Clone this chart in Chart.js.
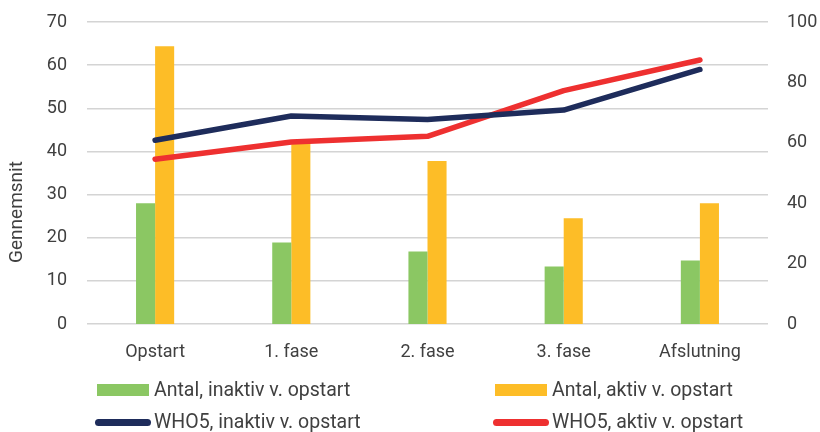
<!DOCTYPE html>
<html><head><meta charset="utf-8">
<script src="https://cdn.jsdelivr.net/npm/chart.js@4"></script>
<style>
html,body{margin:0;padding:0;background:#fff;}
#wrap{position:relative;width:820px;height:432px;}
#c{position:absolute;left:0;top:0;}
.lg{position:absolute;font-family:Roboto,sans-serif;font-size:19.5px;color:#404040;white-space:nowrap;line-height:24px;}
.sw{position:absolute;}
</style></head><body>
<div id="wrap"><canvas id="c" width="820" height="380"></canvas></div>
<script>
const categories = ["Opstart","1. fase","2. fase","3. fase","Afslutning"];
const seriesNames = ["Antal, inaktiv v. opstart","Antal, aktiv v. opstart","WHO5, inaktiv v. opstart","WHO5, aktiv v. opstart"];
const antalInaktiv = [40, 27, 24, 19, 21];
const antalAktiv = [92, 60, 54, 35, 40];
const who5Inaktiv = [42.6, 48.2, 47.4, 49.6, 59.0];
const who5Aktiv = [38.2, 42.2, 43.5, 54.1, 61.2];
const leftTicks = [0,10,20,30,40,50,60,70];
const rightTicks = [0,20,40,60,80,100];
const yTitle = "Gennemsnit";

const colors = ["#8BC763","#FDBD27","#1E2C5B","#EE3030"];
const FONT = "Roboto";
const txt = "#404040";

const titlePlugin = {
  id:'ytitle',
  afterDraw(chart){
    const c = chart.ctx;
    c.save();
    c.translate(17, 212);
    c.rotate(-Math.PI/2);
    c.fillStyle = txt;
    c.font = `19px ${FONT}`;
    c.textAlign = 'center';
    c.textBaseline = 'middle';
    c.fillText(yTitle, 0, 0);
    c.restore();
  }
};

const noPad = s => { s.paddingTop = 0; s.paddingBottom = 0; };

const ctx = document.getElementById('c');
const chart = new Chart(ctx, {
  data: {
    labels: categories,
    datasets: [
      {type:'line', label: seriesNames[2], data: who5Inaktiv, yAxisID:'y', borderColor: colors[2], backgroundColor: colors[2], borderWidth:5.5, pointRadius:0, borderCapStyle:'round', borderJoinStyle:'round', tension:0, order:0},
      {type:'line', label: seriesNames[3], data: who5Aktiv, yAxisID:'y', borderColor: colors[3], backgroundColor: colors[3], borderWidth:5.5, pointRadius:0, borderCapStyle:'round', borderJoinStyle:'round', tension:0, order:0},
      {type:'bar', label: seriesNames[0], data: antalInaktiv, yAxisID:'y1', backgroundColor: colors[0], categoryPercentage:0.28, barPercentage:1, order:1},
      {type:'bar', label: seriesNames[1], data: antalAktiv, yAxisID:'y1', backgroundColor: colors[1], categoryPercentage:0.28, barPercentage:1, order:1}
    ]
  },
  options: {
    responsive:false, animation:false,
    layout:{padding:{top:22,bottom:0,left:0,right:0}},
    plugins:{legend:{display:false}, tooltip:{enabled:false}},
    scales:{
      x:{ grid:{display:false, drawTicks:false}, border:{display:false},
          afterFit: s => { s.height = 56; s.paddingLeft = 0; s.paddingRight = 0; },
          ticks:{color:txt, font:{family:FONT,size:18}, padding:18}},
      y:{ position:'left', min:0, max:70,
          afterBuildTicks: s => { s.ticks = leftTicks.map(v=>({value:v})); },
          afterFit: s => { s.width = 87; noPad(s); },
          grid:{color:'#d4d4d4', lineWidth:1.5, drawTicks:false}, border:{display:false},
          ticks:{color:txt, font:{family:FONT,size:18}, padding:20}},
      y1:{ position:'right', min:0, max:100,
          afterBuildTicks: s => { s.ticks = rightTicks.map(v=>({value:v})); },
          afterFit: s => { s.width = 52; noPad(s); },
          grid:{display:false, drawTicks:false}, border:{display:false},
          ticks:{color:txt, font:{family:FONT,size:18}, padding:19}}
    }
  },
  plugins:[titlePlugin]
});

// HTML legend built from series names
const wrap = document.getElementById('wrap');
const pos = [[97,390,'bar',154],[495,390,'bar',552],[95,422,'line',154],[493,422,'line',552]];
[0,1,2,3].forEach(i=>{
  const [x,y,kind,tx] = pos[i];
  const sw = document.createElement('div');
  sw.className='sw';
  if(kind==='bar'){ sw.style.cssText += `left:${x}px;top:${y-6}px;width:52px;height:12px;background:${colors[i]};`; }
  else { sw.style.cssText += `left:${x}px;top:${y-3.5}px;width:56px;height:7px;border-radius:3.5px;background:${colors[i]};`; }
  wrap.appendChild(sw);
  const t = document.createElement('div');
  t.className='lg'; t.textContent = seriesNames[i];
  t.style.left = tx+'px'; t.style.top = (y-12)+'px';
  wrap.appendChild(t);
});
</script>
</body></html>
